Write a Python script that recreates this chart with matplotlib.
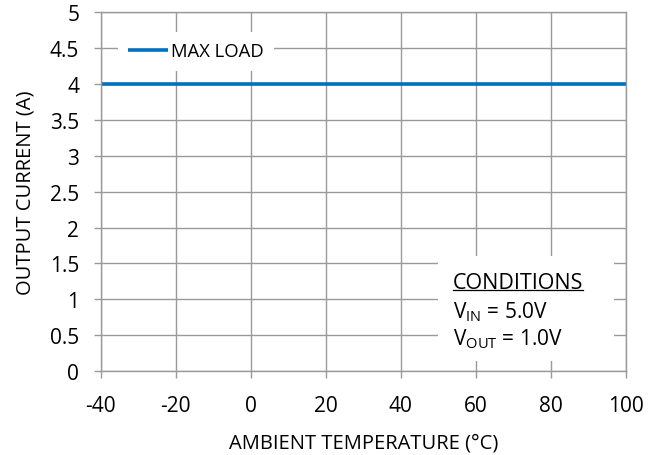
import matplotlib
matplotlib.use("Agg")
import matplotlib.pyplot as plt

plt.rcParams['font.family'] = ['Open Sans', 'DejaVu Sans']
plt.rcParams['mathtext.fontset'] = 'custom'
plt.rcParams['mathtext.rm'] = 'Open Sans'
plt.rcParams['mathtext.it'] = 'Open Sans'
plt.rcParams['axes.unicode_minus'] = False

# data
temp_c = [-40, 100]
max_load_a = [4.0, 4.0]
x_ticks = [-40, -20, 0, 20, 40, 60, 80, 100]
y_ticks = [0, 0.5, 1, 1.5, 2, 2.5, 3, 3.5, 4, 4.5, 5]
y_labels = ['0', '0.5', '1', '1.5', '2', '2.5', '3', '3.5', '4', '4.5', '5']

grid_col = '#9a9a9a'
blue = '#0070c0'

fig = plt.figure(figsize=(6.63, 4.56), dpi=100)
ax = fig.add_axes([0.152, 0.184, 0.792, 0.787])

ax.plot(temp_c, max_load_a, color=blue, lw=2.6, label='MAX LOAD', solid_capstyle='butt')

ax.set_xlim(-40, 100)
ax.set_ylim(0, 5)
ax.set_xticks(x_ticks)
ax.set_yticks(y_ticks)
ax.set_yticklabels(y_labels)
ax.grid(True, color=grid_col, lw=1.0)
ax.set_axisbelow(True)
for s in ax.spines.values():
    s.set_color(grid_col)
    s.set_linewidth(1.0)
ax.tick_params(direction='out', length=5, width=1.0, color=grid_col,
               labelsize=15)
ax.tick_params(axis='x', pad=12)
ax.tick_params(axis='y', pad=10.5)

ax.set_xlabel('AMBIENT TEMPERATURE (°C)', fontsize=14.5, labelpad=12)
ax.set_ylabel('OUTPUT CURRENT (A)', fontsize=14.5, labelpad=10)

leg = ax.legend(loc='upper left', bbox_to_anchor=(0.0324, 0.944), frameon=True,
                fontsize=13.3, handlelength=2.17, handletextpad=0.16,
                borderpad=0.55, borderaxespad=0)
leg.get_frame().set_facecolor('white')
leg.get_frame().set_edgecolor('none')
leg.get_frame().set_alpha(1)

# conditions box
ax.add_patch(plt.Rectangle((0.642, 0.028), 0.335, 0.292, transform=ax.transAxes,
                           facecolor='white', edgecolor='none', zorder=2))
t = ax.text(0.670, 0.231, 'CONDITIONS', transform=ax.transAxes, fontsize=15.5,
            va='baseline', ha='left', zorder=3)
ax.text(0.670, 0.150, r'$\mathrm{V_{IN}}$ = 5.0V', transform=ax.transAxes,
        fontsize=15, va='baseline', ha='left', zorder=3)
ax.text(0.670, 0.075, r'$\mathrm{V_{OUT}}$ = 1.0V', transform=ax.transAxes,
        fontsize=15, va='baseline', ha='left', zorder=3)

fig.canvas.draw()
bb = t.get_window_extent().transformed(ax.transAxes.inverted())
ax.plot([bb.x0, bb.x1], [0.2256, 0.2256], color='black', lw=0.9,
        transform=ax.transAxes, zorder=3)

fig.savefig('out.png', dpi=100)
